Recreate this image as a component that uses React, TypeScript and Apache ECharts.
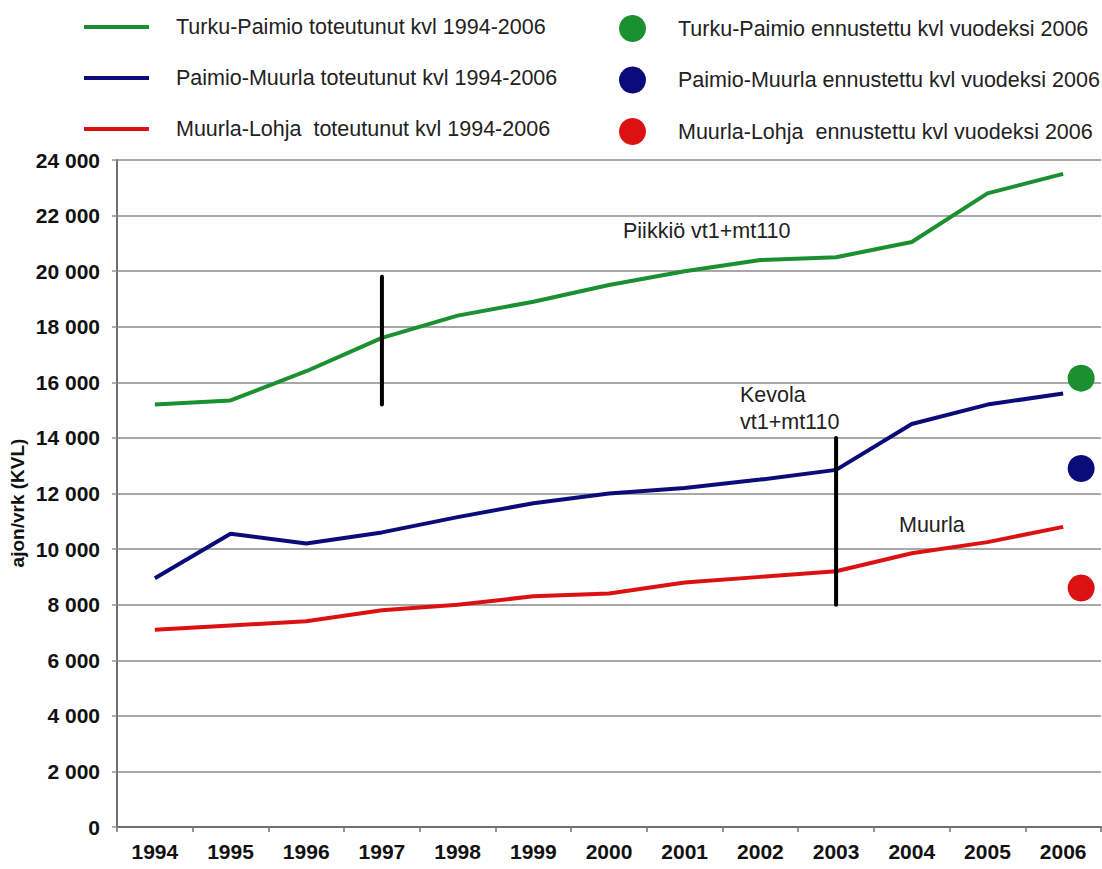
import React, { useEffect, useRef } from "react";
import * as echarts from "echarts";

// Years on the category axis
const years = [
  "1994", "1995", "1996", "1997", "1998", "1999", "2000",
  "2001", "2002", "2003", "2004", "2005", "2006",
];

// Realised average daily traffic (KVL), vehicles per day
const turkuPaimio = [15200, 15350, 16400, 17600, 18400, 18900, 19500, 20000, 20400, 20500, 21050, 22800, 23500];
const paimioMuurla = [8950, 10550, 10200, 10600, 11150, 11650, 12000, 12200, 12500, 12850, 14500, 15200, 15600];
const muurlaLohja = [7100, 7250, 7400, 7800, 8000, 8300, 8400, 8800, 9000, 9200, 9850, 10250, 10800];

// Forecast traffic for 2006
const forecastYear = "2006";
const forecastTurkuPaimio = 16150;
const forecastPaimioMuurla = 12900;
const forecastMuurlaLohja = 8600;

// Vertical markers: [year, top value, bottom value]
const piikkioMarker: [string, number, number] = ["1997", 19800, 15200];
const kevolaMarker: [string, number, number] = ["2003", 14000, 8000];

const lineNames = [
  "Turku-Paimio toteutunut kvl 1994-2006",
  "Paimio-Muurla toteutunut kvl 1994-2006",
  "Muurla-Lohja  toteutunut kvl 1994-2006",
];
const forecastNames = [
  "Turku-Paimio ennustettu kvl vuodeksi 2006",
  "Paimio-Muurla ennustettu kvl vuodeksi 2006",
  "Muurla-Lohja  ennustettu kvl vuodeksi 2006",
];

const GREEN = "#1a9030";
const BLUE = "#0b0b7a";
const RED = "#dc1212";
const FONT = "'Liberation Sans', Arial, sans-serif";

export default function App() {
  const ref = useRef<HTMLDivElement>(null);

  useEffect(() => {
    document.body.style.margin = "0";
    if (!ref.current) return;
    const chart = echarts.init(ref.current, undefined, { renderer: "svg" });

    const lineSeries = (name: string, data: number[], color: string) => ({
      name,
      type: "line",
      data,
      showSymbol: false,
      symbol: "none",
      itemStyle: { color },
      lineStyle: { color, width: 4 },
      z: 3,
    });

    const forecastSeries = (name: string, value: number, color: string) => ({
      name,
      type: "scatter",
      data: [[forecastYear, value]],
      symbol: "circle",
      symbolSize: 27,
      symbolOffset: [18, 0],
      itemStyle: { color, opacity: 1 },
      z: 4,
    });

    const markerSeries = (m: [string, number, number]) => ({
      type: "line",
      data: [[m[0], m[1]], [m[0], m[2]]],
      showSymbol: false,
      symbol: "none",
      lineStyle: { color: "#000", width: 4, cap: "round" },
      z: 5,
      silent: true,
    });

    const fmt = (v: number) =>
      String(v).replace(/\B(?=(\d{3})+(?!\d))/g, " ");

    chart.setOption({
      animation: false,
      backgroundColor: "#ffffff",
      textStyle: { fontFamily: FONT },
      grid: { left: 117, right: 1, top: 160, bottom: 42, containLabel: false },
      legend: [
        {
          data: lineNames,
          orient: "vertical",
          left: 79,
          top: 9,
          icon: "rect",
          itemWidth: 65,
          itemHeight: 4,
          itemGap: 25,
          selectedMode: false,
          textStyle: {
            fontSize: 21.5,
            color: "#222",
            lineHeight: 26,
            padding: [0, 0, 0, 22],
            fontFamily: FONT,
          },
        },
        {
          data: forecastNames,
          orient: "vertical",
          left: 614,
          top: 10,
          icon: "circle",
          itemWidth: 27,
          itemHeight: 27,
          itemGap: 24.5,
          selectedMode: false,
          textStyle: {
            fontSize: 21.5,
            color: "#222",
            lineHeight: 27,
            padding: [0, 0, 0, 27],
            fontFamily: FONT,
          },
        },
      ],
      xAxis: {
        type: "category",
        data: years,
        boundaryGap: true,
        axisLine: { lineStyle: { color: "#707070", width: 2 } },
        axisTick: { show: true, length: 5, lineStyle: { color: "#707070", width: 1.5 } },
        axisLabel: {
          color: "#111",
          fontSize: 21,
          fontWeight: "bold",
          margin: 14,
          fontFamily: FONT,
        },
      },
      yAxis: {
        type: "value",
        min: 0,
        max: 24000,
        interval: 2000,
        axisLine: { show: true, lineStyle: { color: "#707070", width: 2 } },
        axisTick: { show: true, length: 5, lineStyle: { color: "#909090", width: 1.5 } },
        splitLine: { show: true, lineStyle: { color: "#a8a8a8", width: 2 } },
        axisLabel: {
          color: "#111",
          fontSize: 21,
          fontWeight: "bold",
          margin: 17,
          formatter: fmt,
          fontFamily: FONT,
        },
      },
      graphic: [
        {
          type: "text",
          x: 17,
          y: 503,
          rotation: Math.PI / 2,
          style: {
            text: "ajon/vrk (KVL)",
            font: `bold 19px ${FONT}`,
            fill: "#111",
            align: "center",
            verticalAlign: "middle",
          },
        },
        {
          type: "text",
          x: 623,
          y: 231,
          style: { text: "Piikkiö vt1+mt110", font: `21.5px ${FONT}`, fill: "#222", verticalAlign: "middle" },
        },
        {
          type: "text",
          x: 740,
          y: 395,
          style: { text: "Kevola", font: `21.5px ${FONT}`, fill: "#222", verticalAlign: "middle" },
        },
        {
          type: "text",
          x: 740,
          y: 422,
          style: { text: "vt1+mt110", font: `21.5px ${FONT}`, fill: "#222", verticalAlign: "middle" },
        },
        {
          type: "text",
          x: 899,
          y: 525,
          style: { text: "Muurla", font: `21.5px ${FONT}`, fill: "#222", verticalAlign: "middle" },
        },
      ],
      series: [
        lineSeries(lineNames[0], turkuPaimio, GREEN),
        lineSeries(lineNames[1], paimioMuurla, BLUE),
        lineSeries(lineNames[2], muurlaLohja, RED),
        forecastSeries(forecastNames[0], forecastTurkuPaimio, GREEN),
        forecastSeries(forecastNames[1], forecastPaimioMuurla, BLUE),
        forecastSeries(forecastNames[2], forecastMuurlaLohja, RED),
        markerSeries(piikkioMarker),
        markerSeries(kevolaMarker),
      ],
    });

    return () => chart.dispose();
  }, []);

  return <div ref={ref} style={{ width: 1102, height: 869 }} />;
}
